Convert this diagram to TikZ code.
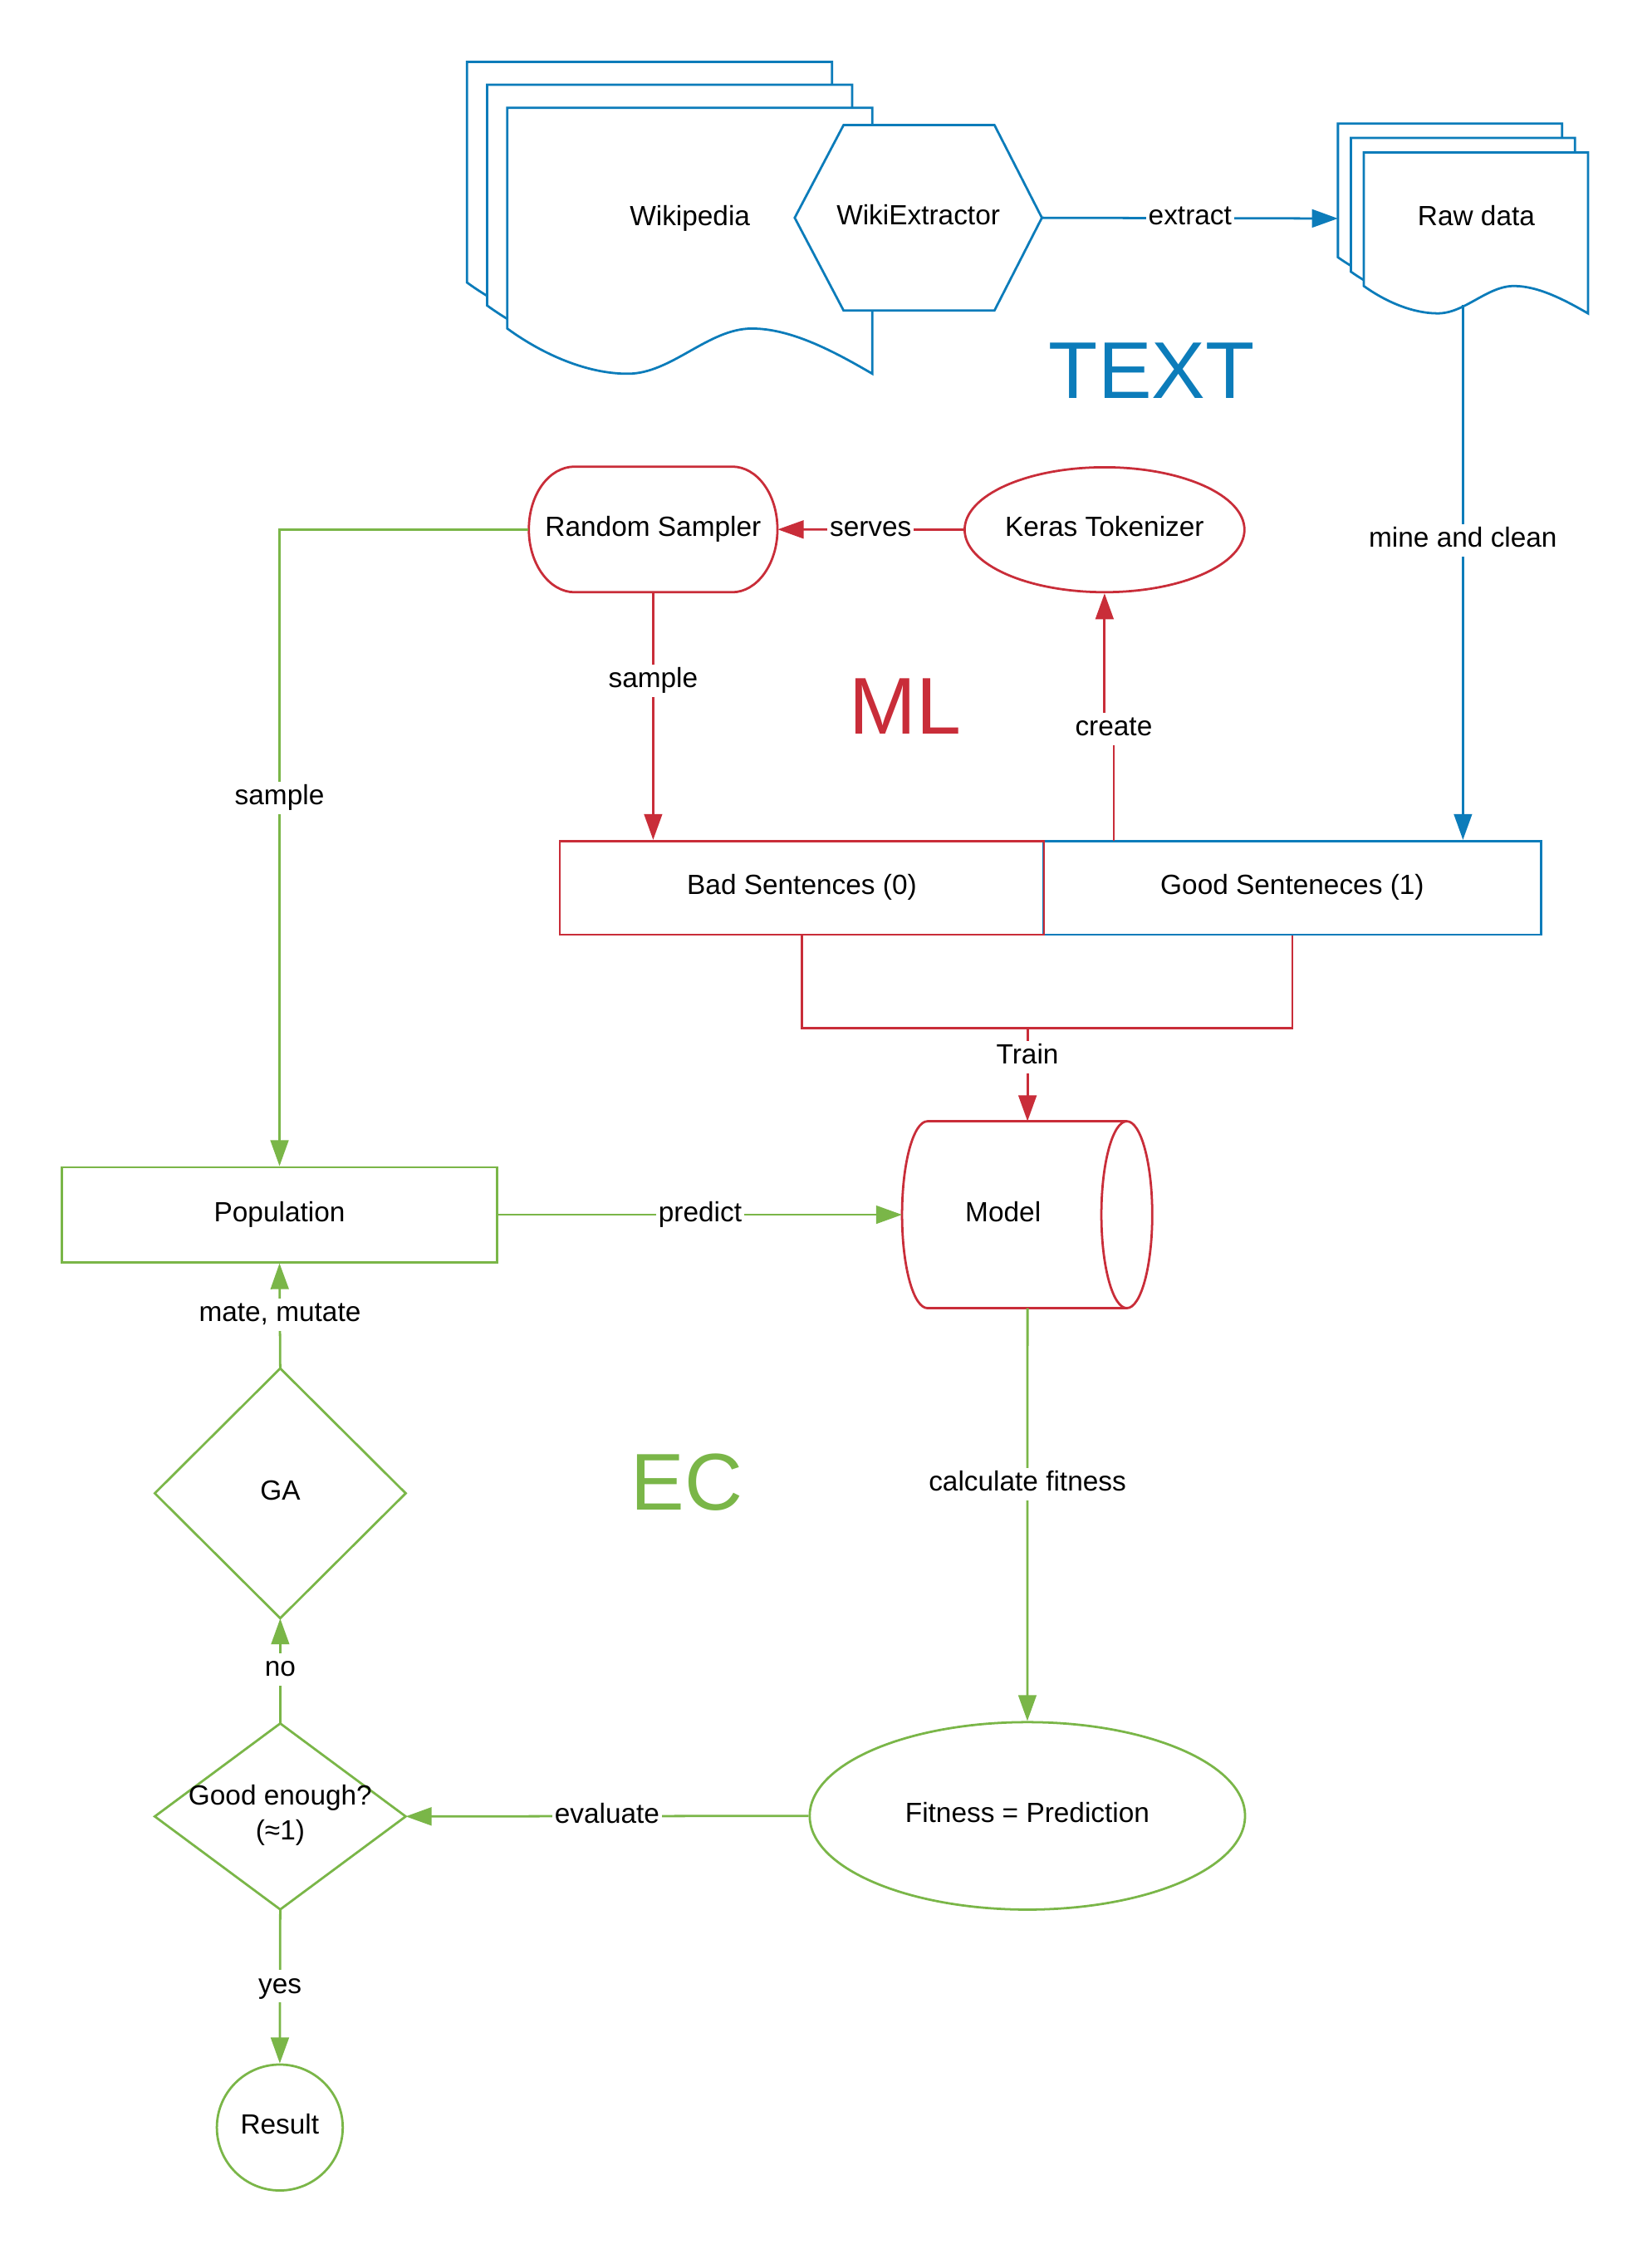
\documentclass[tikz,border=0pt]{standalone}
\usepackage{fontspec}
\setmainfont{Liberation Sans}
\usetikzlibrary{arrows.meta,shapes.geometric,calc}
\definecolor{cred}{HTML}{C92D39}
\definecolor{cgreen}{HTML}{7AB648}
\definecolor{cblue}{HTML}{0C7CBA}
\newcommand\docsheet[5]{%
  \begin{scope}[shift={(#1,#2)},xscale=#3,yscale=#4]
    \draw[ln,#5,fill=white] (0,0) -- (1,0) -- (1,1)
      .. controls (0.9,0.92) and (0.78,0.83) .. (0.67,0.83)
      .. controls (0.55,0.83) and (0.45,1) .. (0.33,1)
      .. controls (0.22,1) and (0.1,0.93) .. (0,0.83) -- cycle;
  \end{scope}}
\tikzset{
  base/.style={font=\fontsize{19.3}{24}\selectfont, inner sep=0pt, text=black, text height=14pt, text depth=4.5pt},
  lbl/.style={base, fill=white, inner xsep=1.5pt, inner ysep=2pt},
  big/.style={font=\fontsize{56}{60}\selectfont, inner sep=0pt, anchor=base},
  ln/.style={line width=1.6pt},
  arr/.style={ln, -{Triangle[length=18pt,width=12.5pt]}},
  anchorbox/.style={inner sep=0pt, outer sep=0pt},
}
\begin{document}
\begin{tikzpicture}[x=1pt,y=-1pt]
\fill[white] (0,0) rectangle (1149,1568);
\useasboundingbox (0,0) rectangle (1149,1568);

% ---------------- TEXT part ----------------
\docsheet{325}{43}{254}{185}{cblue}
\docsheet{339}{59}{254}{185}{cblue}
\docsheet{353}{75}{254}{185}{cblue}
\node[anchorbox, minimum width=281pt, minimum height=217pt,
      label={[base, xshift=14.6pt, yshift=-0.7pt]center:Wikipedia}] (wiki) at (465.5,151.5) {};

\draw[ln,cblue,fill=white] (553,151.5) -- (587,87) -- (692,87) -- (725,151.5) -- (692,216) -- (587,216) -- cycle;
\node[base, minimum width=172pt, minimum height=129pt] (wex) at (639,151.5) {WikiExtractor};

\docsheet{931}{86}{156}{112}{cblue}
\docsheet{940}{96}{156}{112}{cblue}
\docsheet{949}{106}{156}{112}{cblue}
\node[anchorbox, minimum width=174pt, minimum height=132pt,
      label={[base, xshift=9.3pt]center:Raw data}] (raw) at (1018,152) {};
\coordinate (rawout) at (1018,212);

\node[big, text=cblue] (ttext) at (801.5,277.4) {TEXT};

% ---------------- ML part ----------------
\draw[ln,cred,fill=white] (400,324.6) -- (509.4,324.6)
  .. controls (527,324.6) and (541,344) .. (541,368.3)
  .. controls (541,392) and (527,412) .. (509.4,412)
  -- (400,412)
  .. controls (382,412) and (368,392) .. (368,368.3)
  .. controls (368,344) and (382,324.6) .. (400,324.6) -- cycle;
\node[base, minimum width=173pt, minimum height=87.4pt] (rs) at (454.5,368.3) {Random Sampler};

\node[ellipse, draw=cred, ln, fill=white, inner sep=0pt, minimum width=194.7pt, minimum height=86.9pt,
      label={[base]center:Keras Tokenizer}] (kt) at (768.6,368.5) {};

\node[big, text=cred] (tml) at (629.8,510.5) {ML};

\node[base, draw=cblue, ln, minimum width=346.5pt, minimum height=65.1pt] (good) at (899.25,617.6) {Good Senteneces (1)};
\node[base, draw=cred, ln, minimum width=337pt, minimum height=65.1pt] (bad) at (558,617.6) {Bad Sentences (0)};

% Model cylinder
\draw[ln,cred,fill=white] (784.1,780) -- (645.4,780)
  .. controls (635.6,780) and (627.7,809.1) .. (627.7,845)
  .. controls (627.7,880.9) and (635.6,910) .. (645.4,910) -- (784.1,910);
\draw[ln,cred] (784.1,845) ellipse [x radius=17.7pt, y radius=65pt];
\node[anchorbox, minimum width=174.7pt, minimum height=130pt,
      label={[base, xshift=-17pt]center:Model}] (model) at (715,845) {};

% ML connectors
\draw[arr,cblue] (wex.east) -- node[lbl]{extract} (raw.west);
\draw[arr,cblue] (rawout) -- node[lbl,pos=0.44]{mine and clean} (rawout |- good.north);
\draw[arr,cred] (kt.west) -- node[lbl]{serves} (rs.east);
\draw[arr,cred] (rs.south) -- node[lbl,pos=0.358]{sample} (rs.south |- bad.north);
\coordinate (cbot) at (775,585);
\coordinate (cjog) at (775,507.3);
\draw[arr,cred] (cbot) -- (cjog) -| (kt.south);
\node[lbl] (createlbl) at (cjog) {create};
\coordinate (trainmid) at (715,715.2);
\draw[ln,cred] (bad.south) |- (trainmid) -| (good.south);
\draw[arr,cred] (trainmid) -- node[lbl,pos=0.31]{Train} (model.north);

% ---------------- EC part ----------------
\node[base, draw=cgreen, ln, minimum width=303pt, minimum height=66pt] (pop) at (194.5,845) {Population};

\draw[ln,cgreen,fill=white] (195,951.9) -- (282.3,1038.8) -- (195,1125.7) -- (107.7,1038.8) -- cycle;
\node[base, minimum width=174.6pt, minimum height=173.8pt] (ga) at (195,1038.8) {GA};

\draw[ln,cgreen,fill=white] (195,1198.9) -- (282.3,1263.6) -- (195,1328.3) -- (107.7,1263.6) -- cycle;
\node[anchorbox, minimum width=174.6pt, minimum height=129.4pt,
      label={[font=\fontsize{19.3}{24}\selectfont, inner sep=0pt, align=center, yshift=1pt]center:Good enough?\\(≈1)}] (ge) at (195,1263.6) {};

\node[ellipse, draw=cgreen, ln, fill=white, inner sep=0pt, minimum width=303pt, minimum height=130.4pt,
      label={[base]center:Fitness = Prediction}] (fit) at (714.9,1263.2) {};

\node[circle, draw=cgreen, ln, fill=white, inner sep=0pt, minimum size=87.6pt,
      label={[base]center:Result}] (res) at (194.7,1480) {};

\node[big, text=cgreen] (tec) at (477.8,1050.4) {EC};

% EC connectors
\draw[arr,cgreen] (rs.west) -| node[lbl,pos=0.711]{sample} (pop.north);
\draw[arr,cgreen] (pop.east) -- node[lbl]{predict} (model.west);
\draw[arr,cgreen] (model.south) -- node[lbl,pos=0.426]{calculate fitness} (fit.north);
\draw[arr,cgreen] (fit.west) -- node[lbl]{evaluate} (ge.east);
\draw[arr,cgreen] (ge.north) -- node[lbl,pos=0.514]{no} (ga.south);
\draw[arr,cgreen] (ga.north) -- node[lbl,pos=0.509]{mate, mutate} (pop.south);
\draw[arr,cgreen] (ge.south) -- node[lbl,pos=0.5]{yes} (res.north);
\end{tikzpicture}
\end{document}
